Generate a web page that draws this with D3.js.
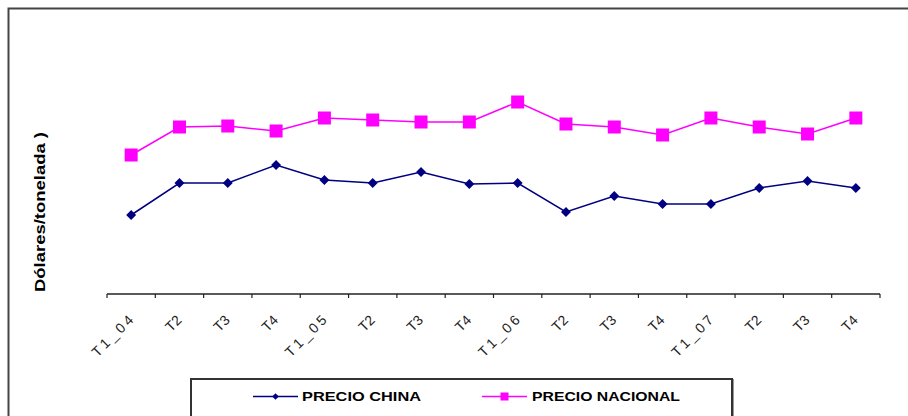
<!DOCTYPE html>
<html>
<head>
<meta charset="utf-8">
<script src="https://cdn.jsdelivr.net/npm/d3@7"></script>
<style>
  html, body { margin: 0; padding: 0; background: #fff; }
  svg { display: block; }
</style>
</head>
<body>
<svg id="chart" width="908" height="416"></svg>
<script>
// ---- data ----
const categories = ["T1_04","T2","T3","T4","T1_05","T2","T3","T4","T1_06","T2","T3","T4","T1_07","T2","T3","T4"];
const precioChina    = [79,111,111,129,114,111,122,110,111,82,98,90,90,106,113,106];
const precioNacional = [139,167,168,163,176,174,172,172,192,170,167,159,176,167,160,176];
const seriesNames = ["PRECIO CHINA", "PRECIO NACIONAL"];
const yTitle = "Dólares/tonelada )";

const svg = d3.select("#chart");
const W = 908, H = 416;

// outer frame
svg.append("path")
  .attr("d", `M8.5,${H} L8.5,8.5 L${W},8.5`)
  .attr("fill", "none").attr("stroke", "#444").attr("stroke-width", 2);

const plot = { left: 107, right: 880, top: 44, bottom: 294 };

const x = d3.scaleBand()
  .domain(d3.range(categories.length))
  .range([plot.left, plot.right])
  .paddingInner(0).paddingOuter(0);

const y = d3.scaleLinear().domain([0, 250]).range([plot.bottom, plot.top]);

// x axis
const xAxisG = svg.append("g").attr("transform", `translate(0,${plot.bottom})`);
xAxisG.append("line")
  .attr("x1", plot.left).attr("x2", plot.right)
  .attr("y1", 0).attr("y2", 0)
  .attr("stroke", "#222").attr("stroke-width", 1.5);
const boundaries = d3.range(categories.length + 1).map(i => plot.left + i * x.step());
xAxisG.selectAll("line.tick").data(boundaries).join("line")
  .attr("class", "tick")
  .attr("x1", d => d).attr("x2", d => d)
  .attr("y1", 0).attr("y2", 4)
  .attr("stroke", "#222").attr("stroke-width", 1.2);

svg.append("g").selectAll("text").data(categories).join("text")
  .attr("transform", (d, i) => `translate(${x(i) + x.bandwidth()/2 + 3},321) rotate(-45)`)
  .attr("text-anchor", "end")
  .attr("font-family", "Liberation Sans, Arial, sans-serif")
  .attr("font-size", 14)
  .attr("fill", "#222")
  .each(function(d) {
    if (d.length > 3) {
      d3.select(this).attr("textLength", 52).attr("lengthAdjust", "spacing");
    }
  })
  .text(d => d);

// y title
svg.append("text")
  .attr("transform", "translate(45,212) rotate(-90)")
  .attr("text-anchor", "middle")
  .attr("font-family", "Liberation Sans, Arial, sans-serif")
  .attr("font-weight", "bold")
  .attr("font-size", 15)
  .attr("textLength", 160)
  .attr("lengthAdjust", "spacingAndGlyphs")
  .attr("fill", "#000")
  .text(yTitle);

const cx = i => x(i) + x.bandwidth() / 2;
const line = d3.line().x((d, i) => cx(i)).y(d => y(d));

// PRECIO CHINA
svg.append("path").datum(precioChina)
  .attr("d", line).attr("fill", "none")
  .attr("stroke", "#000080").attr("stroke-width", 1.5);
const diamond = d3.symbol().type(d3.symbolSquare).size(50);
svg.append("g").selectAll("path").data(precioChina).join("path")
  .attr("transform", (d, i) => `translate(${cx(i)},${y(d)}) rotate(45)`)
  .attr("d", diamond)
  .attr("fill", "#000080");

// PRECIO NACIONAL
svg.append("path").datum(precioNacional)
  .attr("d", line).attr("fill", "none")
  .attr("stroke", "#FF00FF").attr("stroke-width", 1.5);
svg.append("g").selectAll("rect").data(precioNacional).join("rect")
  .attr("x", (d, i) => cx(i) - 6.5).attr("y", d => y(d) - 6.5)
  .attr("width", 13).attr("height", 13)
  .attr("fill", "#FF00FF");

// legend
const lg = svg.append("g");
lg.append("rect")
  .attr("x", 192).attr("y", 380).attr("width", 541).attr("height", 40)
  .attr("fill", "none").attr("stroke", "#999").attr("stroke-width", 2);
lg.append("rect")
  .attr("x", 191).attr("y", 379).attr("width", 541).attr("height", 40)
  .attr("fill", "#fff").attr("stroke", "#333").attr("stroke-width", 2);
const legendItems = [
  { name: seriesNames[0], color: "#000080", x1: 253, x2: 298, tx: 302, tl: 119, marker: "diamond" },
  { name: seriesNames[1], color: "#FF00FF", x1: 482, x2: 527, tx: 532, tl: 148, marker: "square" }
];
const ly = 396.5;
legendItems.forEach(it => {
  lg.append("line").attr("x1", it.x1).attr("x2", it.x2).attr("y1", ly).attr("y2", ly)
    .attr("stroke", it.color).attr("stroke-width", 1.5);
  const mx = (it.x1 + it.x2) / 2;
  if (it.marker === "diamond") {
    lg.append("path").attr("transform", `translate(${mx},${ly}) rotate(45)`)
      .attr("d", d3.symbol().type(d3.symbolSquare).size(22)).attr("fill", it.color);
  } else {
    lg.append("rect").attr("x", mx - 4).attr("y", ly - 4).attr("width", 8).attr("height", 8)
      .attr("fill", it.color);
  }
  lg.append("text").attr("x", it.tx).attr("y", ly + 4.5)
    .attr("font-family", "Liberation Sans, Arial, sans-serif")
    .attr("font-weight", "bold").attr("font-size", 12)
    .attr("textLength", it.tl).attr("lengthAdjust", "spacingAndGlyphs")
    .attr("fill", "#000")
    .text(it.name);
});
</script>
</body>
</html>
